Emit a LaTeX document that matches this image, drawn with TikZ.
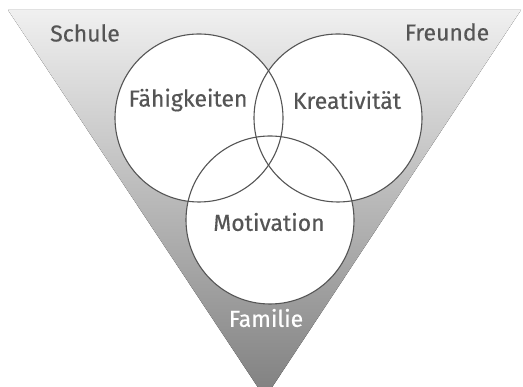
\documentclass[tikz,border=0pt]{standalone}
\usepackage{fontspec}
\setmainfont{Fira Sans}
\newfontfamily\tagfont[FakeBold=0.4]{Fira Sans}
\usepackage{tikz}
\definecolor{inkgray}{HTML}{555555}

\begin{document}
\begin{tikzpicture}[x=1pt,y=1pt,
	disc/.style={circle,fill=white,minimum size=168pt,inner sep=0pt},
	ring/.style={circle,draw=inkgray,line width=1.1pt,minimum size=168pt,inner sep=0pt},
	word/.style={text=inkgray,font=\tagfont\fontsize{23}{27}\selectfont,inner sep=0pt},
	base/.style={text=white,font=\tagfont\fontsize{23}{27}\selectfont,inner sep=0pt}]
	\useasboundingbox (0,0) rectangle (523,387);
	\fill[top color=gray!12,bottom color=gray] (8,377) coordinate (tl) -- (521,377) coordinate (tr) -- (265,-11) coordinate (tip) -- cycle;
	\node [disc] (faehig) at (199,269) {};
	\node [disc] (kreativ) at (338,269) {};
	\node [disc] (motiv) at (270,167) {};
	\node [ring] at (faehig) {};
	\node [ring] at (kreativ) {};
	\node [ring] at (motiv) {};
	\node [word] (schule) at (85,354) {Schule};
	\node [word] (freunde) at (447,355) {Freunde};
	\node [word] (faehigT) at (188,287) {Fähigkeiten};
	\node [word] (kreativT) at (347,287) {Kreativität};
	\node [word] (motivT) at (269,165) {Motivation};
	\node [base] (familie) at (266,69) {Familie};
\end{tikzpicture}
\end{document}
